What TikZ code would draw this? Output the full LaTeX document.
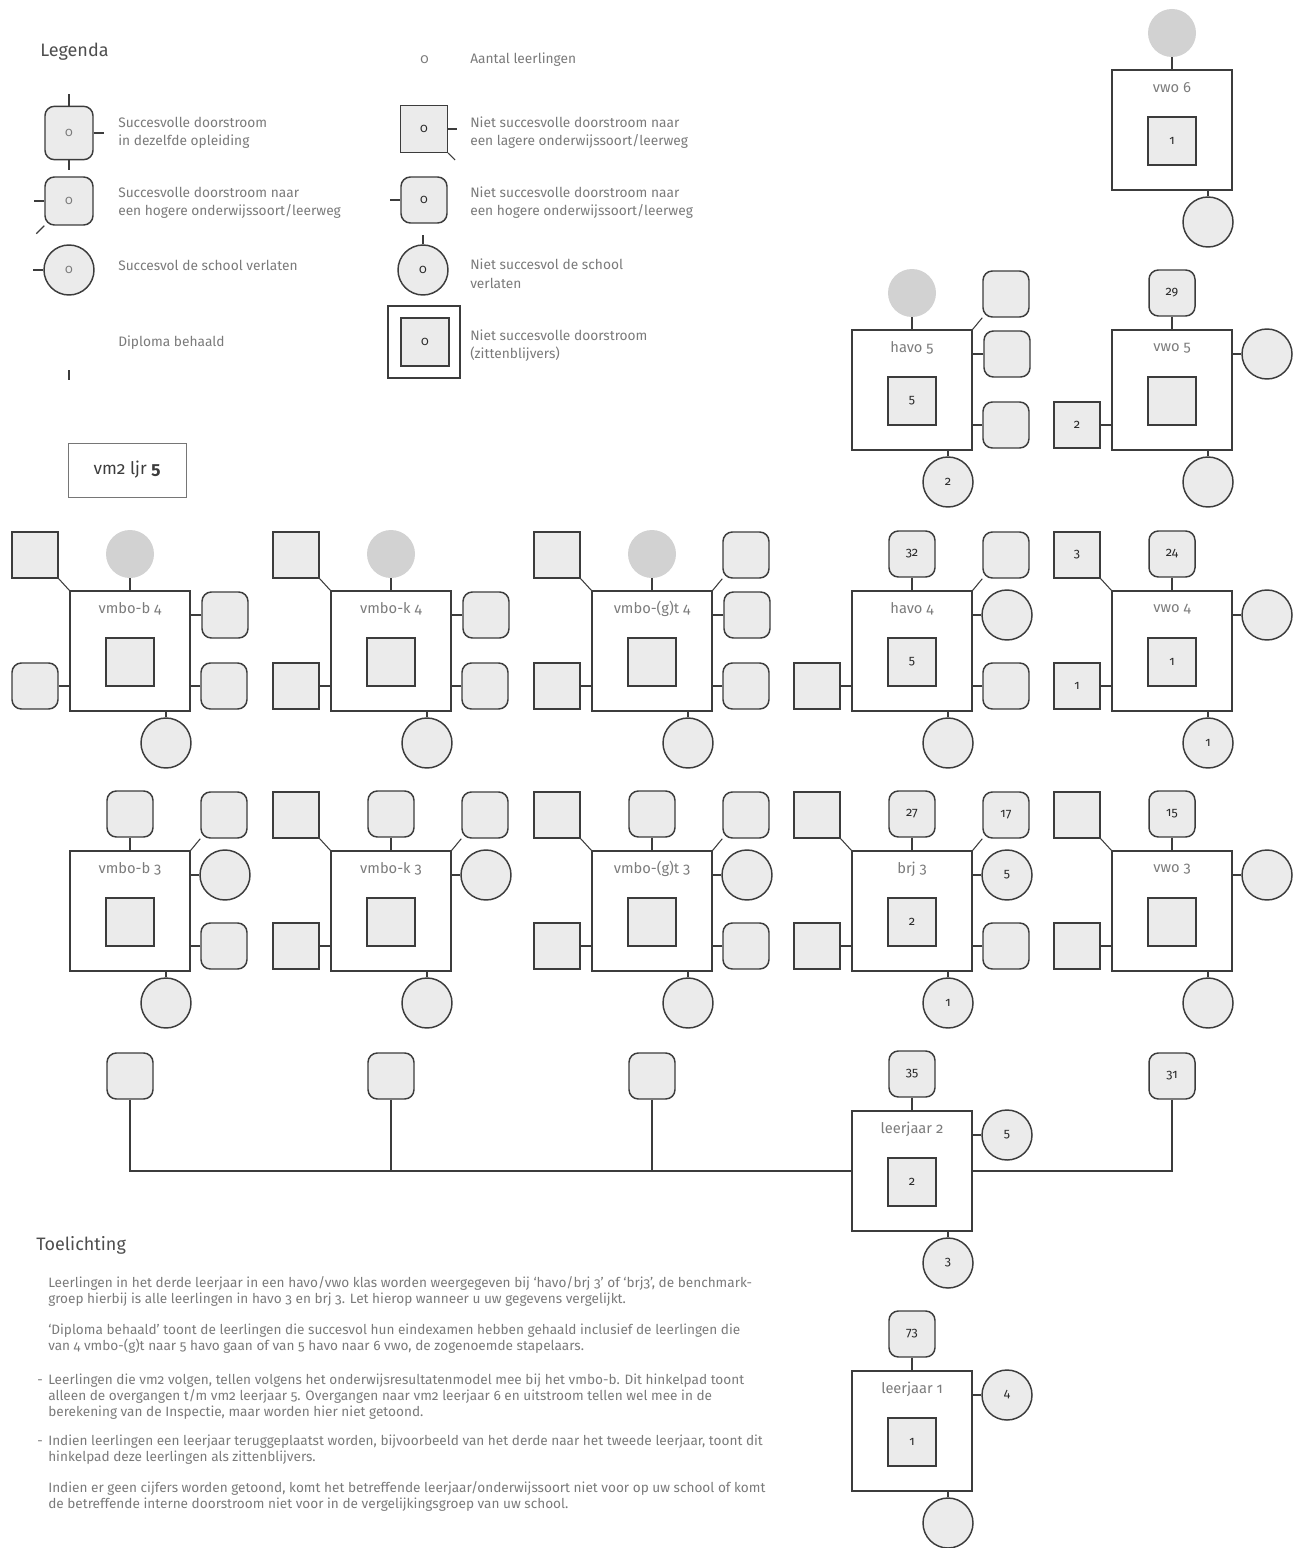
\documentclass[tikz,border=0pt]{standalone}
\usepackage{fontspec}
\setmainfont{Fira Sans}[Numbers=OldStyle]
\usetikzlibrary{calc}
\definecolor{dk}{HTML}{3C3C3C}
\definecolor{lt}{HTML}{EBEBEB}
\definecolor{dip}{HTML}{D2D2D2}
\definecolor{txt}{HTML}{7A7A7A}
\definecolor{lbltxt}{HTML}{7C7C7C}
\definecolor{numtxt}{HTML}{2A2A2A}
\definecolor{headc}{HTML}{4E4E4E}
\newcommand\hub[5]{%
  \node[mainbox] (#1) at (#2,#3) {};
  \node[lbl] (#1l) at (#2,#3-42) {#4};
  \node[innersq] (#1i) at (#2,#3+11) {#5};}
\newcommand\sT[3]{\node[#2] (#1T) at ($(#1)+(0,-97)$) {#3}; \draw[con] (#1T) -- (#1);}
\newcommand\sTL[3]{\node[#2] (#1TL) at ($(#1)+(-95,-96)$) {#3}; \draw[con] (#1TL.south east) -- (#1.north west);}
\newcommand\sTR[3]{\node[#2] (#1TR) at ($(#1)+(94,-96)$) {#3}; \draw[con] (#1TR.south west) -- (#1.north east);}
\newcommand\sRU[3]{\node[#2] (#1RU) at ($(#1)+(95,-36)$) {#3}; \draw[con] (#1RU.west) -- (#1RU.west -| #1.east);}
\newcommand\sRL[3]{\node[#2] (#1RL) at ($(#1)+(94,35)$) {#3}; \draw[con] (#1RL.west) -- (#1RL.west -| #1.east);}
\newcommand\sLL[3]{\node[#2] (#1LL) at ($(#1)+(-95,35)$) {#3}; \draw[con] (#1LL.east) -- (#1LL.east -| #1.west);}
\newcommand\sB[3]{\node[#2] (#1B) at ($(#1)+(36,92)$) {#3}; \draw[con] (#1B.north) -- (#1B.north |- #1.south);}
\begin{document}
\begin{tikzpicture}[x=0.75pt,y=-0.75pt,
  con/.style={draw=dk,line width=0.8pt},
  mainbox/.style={draw=dk,line width=1.2pt,fill=white,minimum size=90pt,inner sep=0pt},
  innersq/.style={draw=dk,line width=1.6pt,fill=lt,minimum size=36pt,inner sep=0pt,font=\fontsize{9.5}{10}\selectfont,text=numtxt},
  sq/.style={draw=dk,line width=1.1pt,fill=lt,minimum size=34.5pt,inner sep=0pt,font=\fontsize{9.5}{10}\selectfont,text=numtxt},
  rsq/.style={sq,rounded corners=7pt},
  circ/.style={sq,circle,minimum size=37.5pt},
  dipl/.style={circle,fill=dip,minimum size=36pt,inner sep=0pt},
  lbl/.style={font=\fontsize{11}{12}\selectfont,text=lbltxt},
  ltxt/.style={anchor=base west,font=\fontsize{10.3}{11}\selectfont,text=txt,inner sep=0pt},
  ttxt/.style={anchor=base west,font=\fontsize{10.2}{11}\selectfont,text=txt,inner sep=0pt},
  head/.style={anchor=base west,font=\fontsize{13.5}{15}\selectfont,text=headc,inner sep=0pt}]
\useasboundingbox (0,0) rectangle (1298,1548);

% ---------- Legend ----------
\node[head] (leg) at (40,57) {Legenda};
\node[rsq,minimum width=36pt,minimum height=40pt,text=txt] (L1) at (69,133) {0};
\draw[con] (L1.north) -- ++(0,-12);
\draw[con] (L1.south) -- ++(0,10);
\draw[con] (L1.east) -- ++(10,0);
\node[ltxt] (t1a) at (118,128) {Succesvolle doorstroom};
\node[ltxt] (t1b) at (118,146) {in dezelfde opleiding};
\node[rsq,minimum size=36pt,text=txt] (L2) at (69,201) {0};
\draw[con] (L2.west) -- ++(-10,0);
\draw[con] (L2.south west) -- ++(-8,8);
\node[ltxt] (t2a) at (118,198) {Succesvolle doorstroom naar};
\node[ltxt] (t2b) at (118,216) {een hogere onderwijssoort/leerweg};
\node[circ,text=txt] (L3) at (69,270) {0};
\draw[con] (L3.west) -- ++(-10,0);
\node[ltxt] (t3) at (118,271) {Succesvol de school verlaten};
\node[ltxt] (t4) at (118,346) {Diploma behaald};
\coordinate (L4a) at (69,370);
\coordinate (L4b) at (69,380);
\draw[con] (L4a) -- (L4b);

\node[ltxt] (z0) at (420,64) {0};
\node[ltxt] (z0t) at (470,64) {Aantal leerlingen};
\node[sq,minimum size=35pt] (L5) at (424,129) {0};
\draw[con] (L5.east) -- ++(9,0);
\draw[con] (L5.south east) -- ++(7,7);
\node[ltxt] (t5a) at (470,128) {Niet succesvolle doorstroom naar};
\node[ltxt] (t5b) at (470,146) {een lagere onderwijssoort/leerweg};
\node[rsq] (L6) at (424,200) {0};
\draw[con] (L6.west) -- ++(-10,0);
\node[ltxt] (t6a) at (470,198) {Niet succesvolle doorstroom naar};
\node[ltxt] (t6b) at (470,216) {een hogere onderwijssoort/leerweg};
\node[circ] (L7) at (423,270) {0};
\draw[con] (L7.north) -- ++(0,-9);
\node[ltxt] (t7a) at (470,270) {Niet succesvol de school};
\node[ltxt] (t7b) at (470,288) {verlaten};
\node[mainbox,minimum size=54pt,line width=1pt] (L8o) at (424,342) {};
\node[innersq] (L8) at (425,342) {0};
\node[ltxt] (t8a) at (470,340) {Niet succesvolle doorstroom};
\node[ltxt] (t8b) at (470,358) {(zittenblijvers)};

\node[draw=dk!70,line width=0.7pt,minimum width=88.5pt,minimum height=40.5pt,font=\fontsize{13}{14}\selectfont,text=dk] (vm) at (127,470) {vm2 ljr \textbf{5}};

% ---------- Row 6 / 5 ----------
\hub{vwosix}{1172}{130}{vwo 6}{1}
\sT{vwosix}{dipl}{}
\sB{vwosix}{circ}{}

\hub{havofive}{912}{390}{havo 5}{5}
\sT{havofive}{dipl}{}
\sTR{havofive}{rsq}{}
\sRU{havofive}{rsq}{}
\sRL{havofive}{rsq}{}
\sB{havofive}{circ}{2}

\hub{vwofive}{1172}{390}{vwo 5}{}
\sT{vwofive}{rsq}{29}
\sRU{vwofive}{circ}{}
\sLL{vwofive}{sq}{2}
\sB{vwofive}{circ}{}

% ---------- Row 4 ----------
\hub{bfour}{130}{651}{vmbo-b 4}{}
\sTL{bfour}{sq}{}
\sT{bfour}{dipl}{}
\sRU{bfour}{rsq}{}
\sRL{bfour}{rsq}{}
\sLL{bfour}{rsq}{}
\sB{bfour}{circ}{}

\hub{kfour}{391}{651}{vmbo-k 4}{}
\sTL{kfour}{sq}{}
\sT{kfour}{dipl}{}
\sRU{kfour}{rsq}{}
\sRL{kfour}{rsq}{}
\sLL{kfour}{sq}{}
\sB{kfour}{circ}{}

\hub{gtfour}{652}{651}{vmbo-(g)t 4}{}
\sTL{gtfour}{sq}{}
\sT{gtfour}{dipl}{}
\sTR{gtfour}{rsq}{}
\sRU{gtfour}{rsq}{}
\sRL{gtfour}{rsq}{}
\sLL{gtfour}{sq}{}
\sB{gtfour}{circ}{}

\hub{havofour}{912}{651}{havo 4}{5}
\sT{havofour}{rsq}{32}
\sTR{havofour}{rsq}{}
\sRU{havofour}{circ}{}
\sRL{havofour}{rsq}{}
\sLL{havofour}{sq}{}
\sB{havofour}{circ}{}

\hub{vwofour}{1172}{651}{vwo 4}{1}
\sTL{vwofour}{sq}{3}
\sT{vwofour}{rsq}{24}
\sRU{vwofour}{circ}{}
\sLL{vwofour}{sq}{1}
\sB{vwofour}{circ}{1}

% ---------- Row 3 ----------
\hub{bthree}{130}{911}{vmbo-b 3}{}
\sT{bthree}{rsq}{}
\sTR{bthree}{rsq}{}
\sRU{bthree}{circ}{}
\sRL{bthree}{rsq}{}
\sB{bthree}{circ}{}

\hub{kthree}{391}{911}{vmbo-k 3}{}
\sTL{kthree}{sq}{}
\sT{kthree}{rsq}{}
\sTR{kthree}{rsq}{}
\sRU{kthree}{circ}{}
\sLL{kthree}{sq}{}
\sB{kthree}{circ}{}

\hub{gtthree}{652}{911}{vmbo-(g)t 3}{}
\sTL{gtthree}{sq}{}
\sT{gtthree}{rsq}{}
\sTR{gtthree}{rsq}{}
\sRU{gtthree}{circ}{}
\sRL{gtthree}{rsq}{}
\sLL{gtthree}{sq}{}
\sB{gtthree}{circ}{}

\hub{brjthree}{912}{911}{brj 3}{2}
\sTL{brjthree}{sq}{}
\sT{brjthree}{rsq}{27}
\sTR{brjthree}{rsq}{17}
\sRU{brjthree}{circ}{5}
\sRL{brjthree}{rsq}{}
\sLL{brjthree}{sq}{}
\sB{brjthree}{circ}{1}

\hub{vwothree}{1172}{911}{vwo 3}{}
\sTL{vwothree}{sq}{}
\sT{vwothree}{rsq}{15}
\sRU{vwothree}{circ}{}
\sLL{vwothree}{sq}{}
\sB{vwothree}{circ}{}

% ---------- Row 2 ----------
\hub{ljtwo}{912}{1171}{leerjaar 2}{2}
\sT{ljtwo}{rsq}{35}
\sRU{ljtwo}{circ}{5}
\sB{ljtwo}{circ}{3}
\node[rsq] (fa) at (130,1076) {};
\node[rsq] (fb) at (391,1076) {};
\node[rsq] (fc) at (652,1076) {};
\node[rsq] (fe) at (1172,1076) {31};
\draw[con] (fa.south) |- (ljtwo.west);
\draw[con] (fb.south) -- (fb.south |- ljtwo.west);
\draw[con] (fc.south) -- (fc.south |- ljtwo.west);
\draw[con] (fe.south) |- (ljtwo.east);

% ---------- Row 1 ----------
\hub{ljone}{912}{1431}{leerjaar 1}{1}
\sT{ljone}{rsq}{73}
\sRU{ljone}{circ}{4}
\sB{ljone}{circ}{}

% ---------- Toelichting ----------
\node[head] (toel) at (36,1250) {Toelichting};
\node[ttxt] (p1a) at (48,1287) {Leerlingen in het derde leerjaar in een havo/vwo klas worden weergegeven bij `havo/brj 3' of `brj3', de benchmark-};
\node[ttxt] (p1b) at (48,1303) {groep hierbij is alle leerlingen in havo 3 en brj 3. Let hierop wanneer u uw gegevens vergelijkt.};
\node[ttxt] (p2a) at (48,1334) {`Diploma behaald' toont de leerlingen die succesvol hun eindexamen hebben gehaald inclusief de leerlingen die};
\node[ttxt] (p2b) at (48,1350) {van 4 vmbo-(g)t naar 5 havo gaan of van 5 havo naar 6 vwo, de zogenoemde stapelaars.};
\node[ttxt] (d3) at (37,1384) {-};
\node[ttxt] (p3a) at (48,1384) {Leerlingen die vm2 volgen, tellen volgens het onderwijsresultatenmodel mee bij het vmbo-b. Dit hinkelpad toont};
\node[ttxt] (p3b) at (48,1400) {alleen de overgangen t/m vm2 leerjaar 5. Overgangen naar vm2 leerjaar 6 en uitstroom tellen wel mee in de};
\node[ttxt] (p3c) at (48,1416) {berekening van de Inspectie, maar worden hier niet getoond.};
\node[ttxt] (d4) at (37,1445) {-};
\node[ttxt] (p4a) at (48,1445) {Indien leerlingen een leerjaar teruggeplaatst worden, bijvoorbeeld van het derde naar het tweede leerjaar, toont dit};
\node[ttxt] (p4b) at (48,1461) {hinkelpad deze leerlingen als zittenblijvers.};
\node[ttxt] (p5a) at (48,1492) {Indien er geen cijfers worden getoond, komt het betreffende leerjaar/onderwijssoort niet voor op uw school of komt};
\node[ttxt] (p5b) at (48,1508) {de betreffende interne doorstroom niet voor in de vergelijkingsgroep van uw school.};
\end{tikzpicture}
\end{document}
